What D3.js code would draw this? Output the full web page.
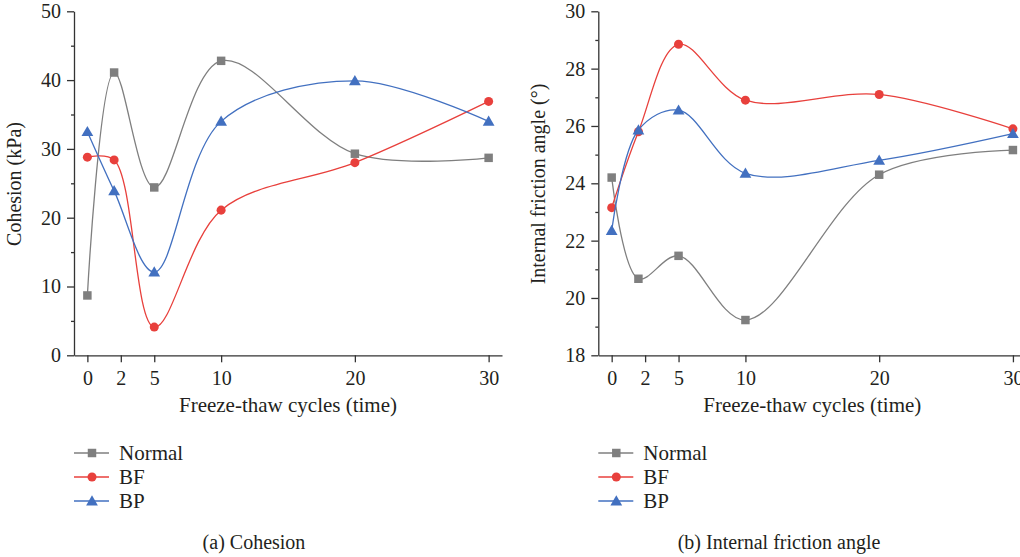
<!DOCTYPE html>
<meta charset="utf-8">
<style>
body { margin: 0; background: #fff; }
.axis path, .axis line { stroke: #333; stroke-width: 1.3px; }
.curve { fill: none; stroke-width: 1.3px; }
</style>
<body>
<script src="https://cdn.jsdelivr.net/npm/d3@7"></script>
<script>

var cycles = [0, 2, 5, 10, 20, 30];
var xTicks = [0, 2.5, 5, 10, 20, 30];
var xTickLabels = ["0", "2", "5", "10", "20", "30"];

var seriesNames = ["Normal", "BF", "BP"];
var colors = {Normal: "#7f7f7f", BF: "#e8403c", BP: "#4270c0"};

var cohesionNormal = [8.7, 41.1, 24.4, 42.8, 29.3, 28.7];
var cohesionBF = [28.8, 28.4, 4.1, 21.1, 28.0, 36.9];
var cohesionBP = [32.5, 23.9, 12.1, 34.0, 39.9, 34.0];

var frictionNormal = [24.2, 20.67, 21.47, 19.23, 24.3, 25.16];
var frictionBF = [23.15, 25.8, 28.85, 26.9, 27.1, 25.9];
var frictionBP = [22.35, 25.86, 26.55, 24.35, 24.8, 25.73];

var serif = "'Liberation Serif', 'Times New Roman', 'DejaVu Serif', serif";

var svg = d3.select("body").append("svg")
    .attr("width", 1020)
    .attr("height", 557)
    .style("font-family", serif);

function styleTicks(sel) {
  sel.attr("font-family", null).attr("font-size", null);
  sel.selectAll("text")
      .style("font-family", serif)
      .style("font-size", "20px")
      .style("fill", "#231f20");
}

function panel(opts) {
  var x = d3.scaleLinear().domain([-1, 31]).range([opts.left, opts.left + 428]);
  var y = d3.scaleLinear().domain(opts.yDomain).range([355.3, 11.3]);

  var g = svg.append("g");

  // minor y ticks
  g.append("g")
      .attr("class", "axis")
      .attr("transform", "translate(" + opts.left + ",0)")
      .call(d3.axisLeft(y).tickValues(opts.minor).tickSize(3).tickFormat(""))
      .select(".domain").remove();

  g.append("g")
      .attr("class", "axis")
      .attr("transform", "translate(" + opts.left + ",0)")
      .call(d3.axisLeft(y).tickValues(opts.major).tickSize(7).tickSizeOuter(0).tickPadding(6))
      .call(styleTicks);

  g.append("g")
      .attr("class", "axis")
      .attr("transform", "translate(0,355.3)")
      .call(d3.axisBottom(x).tickValues(xTicks).tickSize(7).tickSizeOuter(0).tickPadding(9)
          .tickFormat(function(d, i) { return xTickLabels[i]; }))
      .call(styleTicks);

  g.append("text")
      .attr("x", opts.left + 214)
      .attr("y", 412)
      .attr("text-anchor", "middle")
      .style("font-size", "21px")
      .style("fill", "#231f20")
      .text("Freeze-thaw cycles (time)");

  g.append("text")
      .attr("transform", "translate(" + (opts.left - 53) + ",184) rotate(-90)")
      .attr("text-anchor", "middle")
      .style("font-size", "20px")
      .style("fill", "#231f20")
      .text(opts.yTitle);

  var line = d3.line()
      .x(function(d, i) { return x(cycles[i]); })
      .y(function(d) { return y(d); })
      .curve(d3.curveCatmullRom.alpha(0.5));

  seriesNames.forEach(function(name, k) {
    var vals = opts.data[k];
    g.append("path")
        .attr("class", "curve")
        .attr("stroke", colors[name])
        .attr("d", line(vals));
    vals.forEach(function(v, i) {
      marker(g, name, x(cycles[i]), y(v));
    });
  });

  // legend
  var lg = g.append("g");
  seriesNames.forEach(function(name, k) {
    var ly = 453 + k * 24;
    lg.append("line")
        .attr("x1", opts.left).attr("x2", opts.left + 35)
        .attr("y1", ly).attr("y2", ly)
        .attr("stroke", colors[name]).attr("stroke-width", 1.3);
    marker(lg, name, opts.left + 18, ly);
    lg.append("text")
        .attr("x", opts.left + 45)
        .attr("y", ly + 7)
        .style("font-size", "21px")
        .style("fill", "#231f20")
        .text(name);
  });

  g.append("text")
      .attr("x", opts.captionX)
      .attr("y", 549)
      .attr("text-anchor", "middle")
      .style("font-size", "20px")
      .style("fill", "#231f20")
      .text(opts.caption);
}

function marker(g, name, cx, cy) {
  var type = name === "Normal" ? d3.symbolSquare : name === "BF" ? d3.symbolCircle : d3.symbolTriangle;
  var size = name === "Normal" ? 72 : name === "BF" ? 64 : 60;
  g.append("path")
      .attr("transform", "translate(" + cx + "," + (name === "BP" ? cy + 1 : cy) + ")")
      .attr("d", d3.symbol().type(type).size(size)())
      .attr("fill", colors[name]);
}

panel({
  left: 74,
  yDomain: [0, 50],
  major: [0, 10, 20, 30, 40, 50],
  minor: d3.range(5, 50, 10),
  yTitle: "Cohesion (kPa)",
  data: [cohesionNormal, cohesionBF, cohesionBP],
  caption: "(a) Cohesion",
  captionX: 254
});

panel({
  left: 598.3,
  yDomain: [18, 30],
  major: [18, 20, 22, 24, 26, 28, 30],
  minor: d3.range(19, 30, 2),
  yTitle: "Internal friction angle (\u00b0)",
  data: [frictionNormal, frictionBF, frictionBP],
  caption: "(b) Internal friction angle",
  captionX: 779
});

</script>
